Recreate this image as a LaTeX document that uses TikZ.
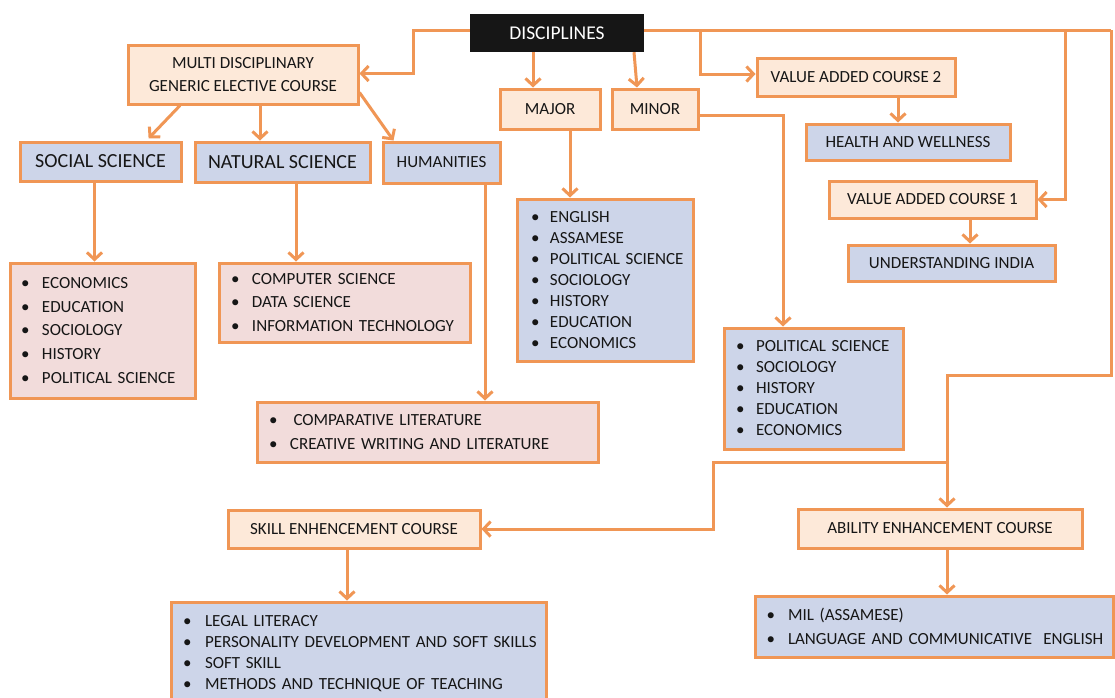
\documentclass[tikz,border=0pt]{standalone}
\usepackage{fontspec}
\setmainfont{Carlito}
\usetikzlibrary{arrows.meta}
\definecolor{orc}{RGB}{240,150,85}
\definecolor{peach}{RGB}{253,233,217}
\definecolor{bluef}{RGB}{205,213,233}
\definecolor{pinkf}{RGB}{242,220,219}
\definecolor{txt}{RGB}{22,22,22}
\definecolor{blk}{RGB}{22,22,22}
\newcommand\itm[2][21pt]{\mbox{\makebox[#1][l]{\textbullet}#2}}
\begin{document}
\begin{tikzpicture}[x=1pt,y=-1pt,
  box/.style={draw=orc, line width=3pt, text=txt, inner sep=0pt, font=\fontsize{17}{23}\selectfont, align=center},
  hdr/.style={box, fill=peach},
  sub/.style={box, fill=bluef},
  lst/.style={box, align=left},
  big/.style={font=\fontsize{20}{24}\selectfont},
  arr/.style={draw=orc, line width=3pt, -{Straight Barb[length=7pt,width=15pt]}},
  ln/.style={draw=orc, line width=3pt},
]
\fill[white] (0,0) rectangle (1115,697);
\useasboundingbox (0,0) rectangle (1115,697);

% top nodes
\node[fill=blk, text=white, inner sep=0pt, minimum width=174pt, minimum height=38pt, font=\fontsize{19.5}{23}\selectfont] (disc) at (557,33) {DISCIPLINES};
\node[hdr, minimum width=230pt, minimum height=59pt] (multi) at (243,74.5) {MULTI DISCIPLINARY\\GENERIC ELECTIVE COURSE};
\node[sub, big, minimum width=161pt, minimum height=39pt] (social) at (100.5,161.5) {SOCIAL SCIENCE};
\node[sub, big, minimum width=175pt, minimum height=40pt] (natural) at (282.5,162) {NATURAL SCIENCE};
\node[sub, minimum width=117pt, minimum height=41pt] (hum) at (441.5,162.5) {HUMANITIES};
\node[hdr, minimum width=100pt, minimum height=40pt] (major) at (550,109) {MAJOR};
\node[hdr, minimum width=86pt, minimum height=40pt] (minor) at (655,109) {MINOR};
\node[hdr, minimum width=198pt, minimum height=38pt] (vac2) at (856,77) {VALUE ADDED COURSE 2};
\node[sub, minimum width=204pt, minimum height=36pt] (health) at (908,142) {HEALTH AND WELLNESS};
\node[hdr, minimum width=207pt, minimum height=37pt] (vac1) at (932.5,199.5) {VALUE ADDED COURSE 1};
\node[sub, minimum width=207pt, minimum height=36pt] (india) at (951.5,263) {UNDERSTANDING INDIA};
\node[hdr, minimum width=252pt, minimum height=38pt] (skill) at (354,529) {SKILL ENHENCEMENT COURSE};
\node[hdr, minimum width=284pt, minimum height=39pt] (ability) at (940,528.5) {ABILITY ENHANCEMENT COURSE};

% lists
\node[lst, fill=pinkf, minimum width=185pt, minimum height=135pt, text width=163pt, inner xsep=11pt, font=\fontsize{17}{23.7}\selectfont] (soclist) at (102.5,330.5)
  {\itm{ECONOMICS}\\\itm{EDUCATION}\\\itm{SOCIOLOGY}\\\itm{HISTORY}\\\itm{POLITICAL SCIENCE}};
\node[lst, fill=pinkf, minimum width=251pt, minimum height=79pt, text width=227pt, inner xsep=12pt, font=\fontsize{17}{23.5}\selectfont] (natlist) at (344.5,302.5)
  {\itm{COMPUTER SCIENCE}\\\itm{DATA SCIENCE}\\\itm{INFORMATION TECHNOLOGY}};
\node[lst, fill=pinkf, minimum width=341pt, minimum height=60pt, text width=317pt, inner xsep=12pt, font=\fontsize{17}{24}\selectfont] (humlist) at (427.5,432)
  {\itm{\hspace{3.5pt}COMPARATIVE LITERATURE}\\\itm{CREATIVE WRITING AND LITERATURE}};
\node[lst, fill=bluef, minimum width=176pt, minimum height=162pt, text width=148pt, inner xsep=14pt, font=\fontsize{17}{21}\selectfont] (majlist) at (605,280)
  {\itm[19pt]{ENGLISH}\\\itm[19pt]{ASSAMESE}\\\itm[19pt]{POLITICAL SCIENCE}\\\itm[19pt]{SOCIOLOGY}\\\itm[19pt]{HISTORY}\\\itm[19pt]{EDUCATION}\\\itm[19pt]{ECONOMICS}};
\node[lst, fill=bluef, minimum width=179pt, minimum height=121pt, text width=155pt, inner xsep=12pt, font=\fontsize{17}{21}\selectfont] (minlist) at (813.5,388.5)
  {\itm[20pt]{POLITICAL SCIENCE}\\\itm[20pt]{SOCIOLOGY}\\\itm[20pt]{HISTORY}\\\itm[20pt]{EDUCATION}\\\itm[20pt]{ECONOMICS}};
\node[lst, fill=bluef, minimum width=375pt, minimum height=104pt, text width=351pt, inner xsep=12pt, font=\fontsize{17}{21}\selectfont] (skilllist) at (358.5,654)
  {\itm[22pt]{LEGAL LITERACY}\\\itm[22pt]{PERSONALITY DEVELOPMENT AND SOFT SKILLS}\\\itm[22pt]{SOFT SKILL}\\\itm[22pt]{METHODS AND TECHNIQUE OF TEACHING}};
\node[lst, fill=bluef, minimum width=358pt, minimum height=61pt, text width=335pt, inner xsep=11.5pt, font=\fontsize{17}{24}\selectfont] (ablist) at (934,626.5)
  {\itm[21.5pt]{MIL (ASSAMESE)}\\\itm[21.5pt]{LANGUAGE AND COMMUNICATIVE\ \ ENGLISH}};

% routing points
\coordinate (lA) at (413,30);
\coordinate (tA) at (700,30);
\coordinate (tB) at (1065,30);
\coordinate (tC) at (1111,30);
\coordinate (rC) at (947,375);
\coordinate (bS) at (947,462);
\coordinate (sK) at (713,529);

% connectors
\draw[ln] ([yshift=3pt]disc.east) -- (tC);
\draw[arr] (tC) |- (rC) -- (rC |- ability.north);
\draw[arr] (tA) |- ([yshift=3pt]vac2.west);
\draw[arr] (tB) |- (vac1.east);
\draw[arr] (bS) -| (sK) -- (skill.east);
\draw[arr] ([yshift=3pt]disc.west) -- (lA) |- ([yshift=1pt]multi.east);
\draw[arr] ([xshift=-24pt]disc.south) -- ([xshift=-24pt]disc.south |- major.north);
\draw[arr] ([xshift=77pt]disc.south) -- ([xshift=-18pt]minor.north);
\draw[arr] ([xshift=20pt]major.south) -- ([xshift=20pt]major.south |- majlist.north);
\draw[arr] ([yshift=-6pt]minor.east) -| ([xshift=-30.5pt]minlist.north);
\draw[arr] ([xshift=42pt]vac2.south) -- ([xshift=42pt]vac2.south |- health.north);
\draw[arr] ([xshift=37.5pt]vac1.south) -- ([xshift=37.5pt]vac1.south |- india.north);
\draw[arr, shorten >=3pt] ([xshift=-63pt]multi.south) -- ([xshift=46pt]social.north);
\draw[arr] ([xshift=17pt]multi.south) -- ([xshift=17pt]multi.south |- natural.north);
\draw[arr] ([yshift=-18pt]multi.east) -- ([xshift=-48pt]hum.north);
\draw[arr] ([xshift=-6pt]social.south) -- ([xshift=-6pt]social.south |- soclist.north);
\draw[arr] ([xshift=13.5pt]natural.south) -- ([xshift=13.5pt]natural.south |- natlist.north);
\draw[arr] ([xshift=43.5pt]hum.south) -- ([xshift=43.5pt]hum.south |- humlist.north);
\draw[arr] ([xshift=-7pt]skill.south) -- ([xshift=-7pt]skill.south |- skilllist.north);
\draw[arr] ([xshift=7pt]ability.south) -- ([xshift=7pt]ability.south |- ablist.north);
\end{tikzpicture}
\end{document}
